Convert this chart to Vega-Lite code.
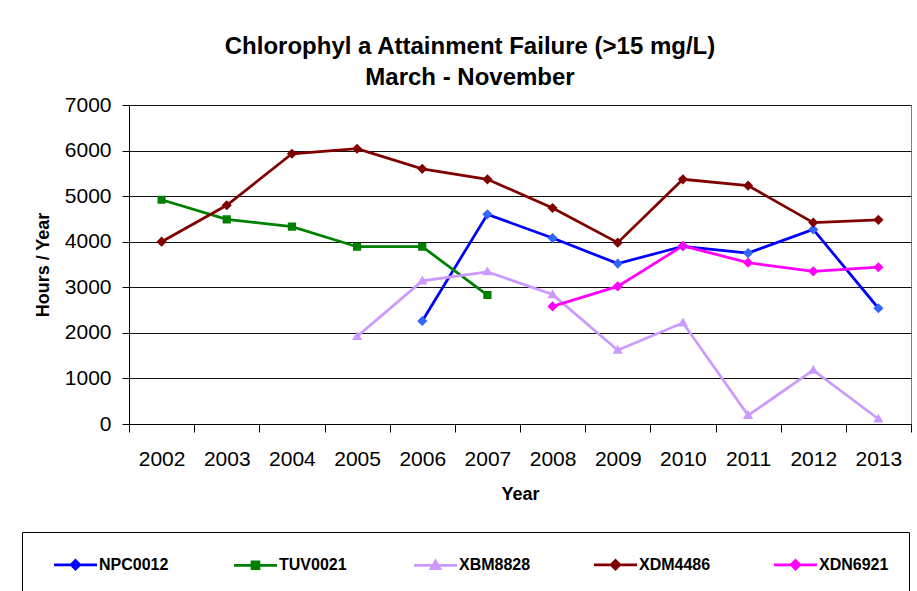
{
  "$schema": "https://vega.github.io/schema/vega-lite/v6.json",
  "width": 782,
  "height": 319,
  "autosize": "none",
  "padding": {"left": 129, "top": 105, "right": 6, "bottom": 167},
  "background": "white",
  "title": {
    "text": ["Chlorophyl a Attainment Failure (>15 mg/L)", "March - November"],
    "fontSize": 24,
    "font": "Liberation Sans",
    "fontWeight": "bold",
    "color": "black",
    "lineHeight": 31,
    "anchor": "middle",
    "frame": "group",
    "dx": -50,
    "offset": 4
  },
  "data": {
    "values": [
      {"site": "NPC0012", "year": 2006, "hours": 2260},
      {"site": "NPC0012", "year": 2007, "hours": 4600},
      {"site": "NPC0012", "year": 2008, "hours": 4080},
      {"site": "NPC0012", "year": 2009, "hours": 3520},
      {"site": "NPC0012", "year": 2010, "hours": 3900},
      {"site": "NPC0012", "year": 2011, "hours": 3750},
      {"site": "NPC0012", "year": 2012, "hours": 4270},
      {"site": "NPC0012", "year": 2013, "hours": 2540},
      {"site": "TUV0021", "year": 2002, "hours": 4920},
      {"site": "TUV0021", "year": 2003, "hours": 4490},
      {"site": "TUV0021", "year": 2004, "hours": 4330},
      {"site": "TUV0021", "year": 2005, "hours": 3890},
      {"site": "TUV0021", "year": 2006, "hours": 3890},
      {"site": "TUV0021", "year": 2007, "hours": 2830},
      {"site": "XBM8828", "year": 2005, "hours": 1920},
      {"site": "XBM8828", "year": 2006, "hours": 3140},
      {"site": "XBM8828", "year": 2007, "hours": 3340},
      {"site": "XBM8828", "year": 2008, "hours": 2840},
      {"site": "XBM8828", "year": 2009, "hours": 1620},
      {"site": "XBM8828", "year": 2010, "hours": 2220},
      {"site": "XBM8828", "year": 2011, "hours": 190},
      {"site": "XBM8828", "year": 2012, "hours": 1180},
      {"site": "XBM8828", "year": 2013, "hours": 110},
      {"site": "XDM4486", "year": 2002, "hours": 4000},
      {"site": "XDM4486", "year": 2003, "hours": 4800},
      {"site": "XDM4486", "year": 2004, "hours": 5930},
      {"site": "XDM4486", "year": 2005, "hours": 6040},
      {"site": "XDM4486", "year": 2006, "hours": 5600},
      {"site": "XDM4486", "year": 2007, "hours": 5370},
      {"site": "XDM4486", "year": 2008, "hours": 4740},
      {"site": "XDM4486", "year": 2009, "hours": 3980},
      {"site": "XDM4486", "year": 2010, "hours": 5370},
      {"site": "XDM4486", "year": 2011, "hours": 5230},
      {"site": "XDM4486", "year": 2012, "hours": 4420},
      {"site": "XDM4486", "year": 2013, "hours": 4480},
      {"site": "XDN6921", "year": 2008, "hours": 2580},
      {"site": "XDN6921", "year": 2009, "hours": 3020},
      {"site": "XDN6921", "year": 2010, "hours": 3910},
      {"site": "XDN6921", "year": 2011, "hours": 3540},
      {"site": "XDN6921", "year": 2012, "hours": 3350},
      {"site": "XDN6921", "year": 2013, "hours": 3440}
    ]
  },
  "encoding": {
    "x": {
      "field": "year",
      "type": "ordinal",
      "scale": {"type": "band", "paddingInner": 0, "paddingOuter": 0},
      "axis": {
        "title": "Year",
        "titleFontSize": 18,
        "titleFontWeight": "bold",
        "titleColor": "black",
        "titlePadding": 16,
        "labelFontSize": 21,
        "labelFontWeight": "normal",
        "labelColor": "black",
        "labelAngle": 0,
        "labelPadding": 16,
        "tickBand": "extent",
        "tickSize": 8,
        "tickColor": "black",
        "domainColor": "black",
        "grid": false
      }
    },
    "y": {
      "field": "hours",
      "type": "quantitative",
      "scale": {"domain": [0, 7000], "nice": false},
      "axis": {
        "title": "Hours / Year",
        "titleFontSize": 18,
        "titleFontWeight": "bold",
        "titleColor": "black",
        "titlePadding": 12,
        "values": [0, 1000, 2000, 3000, 4000, 5000, 6000, 7000],
        "format": "d",
        "labelFontSize": 21,
        "labelColor": "black",
        "labelPadding": 11,
        "tickSize": 7,
        "tickColor": "black",
        "domainColor": "black",
        "grid": true,
        "gridColor": "#111111",
        "gridWidth": 1
      }
    }
  },
  "layer": [
    {
      "mark": {"type": "line", "strokeWidth": 2.75},
      "encoding": {
        "color": {
          "field": "site",
          "type": "nominal",
          "scale": {
            "domain": ["NPC0012", "TUV0021", "XBM8828", "XDM4486", "XDN6921"],
            "range": ["#0000FF", "#008000", "#CC99FF", "#800000", "#FF00FF"]
          },
          "legend": {
            "title": null,
            "orient": "none",
            "legendX": -107,
            "legendY": 427,
            "direction": "horizontal",
            "columns": 5,
            "gridAlign": "all",
            "columnPadding": 51,
            "padding": 20,
            "strokeColor": "black",
            "symbolSize": 462,
            "symbolOffset": 21,
            "symbolStrokeWidth": 2.75,
            "labelOffset": 11,
            "labelFontSize": 16,
            "labelFontWeight": "bold",
            "labelColor": "black"
          }
        }
      }
    },
    {
      "mark": {"type": "point", "filled": true, "opacity": 1, "size": 650},
      "encoding": {
        "fill": {
          "field": "site",
          "type": "nominal",
          "scale": {
            "domain": ["NPC0012", "TUV0021", "XBM8828", "XDM4486", "XDN6921"],
            "range": ["#3366FF", "#008000", "#CC99FF", "#800000", "#FF00FF"]
          },
          "legend": {
            "title": null,
            "orient": "none",
            "legendX": -107,
            "legendY": 427,
            "direction": "horizontal",
            "columns": 5,
            "gridAlign": "all",
            "columnPadding": 51,
            "padding": 20,
            "strokeColor": "black",
            "symbolSize": 462,
            "symbolOffset": 21,
            "symbolStrokeWidth": 2.75,
            "labelOffset": 11,
            "labelFontSize": 16,
            "labelFontWeight": "bold",
            "labelColor": "black"
          }
        },
        "shape": {
          "field": "site",
          "type": "nominal",
          "scale": {
            "domain": ["NPC0012", "TUV0021", "XBM8828", "XDM4486", "XDN6921"],
            "range": [
              "M-2,0H2M0,-0.4L0.4,0L0,0.4L-0.4,0Z",
              "M-2,0H2M-0.32,-0.32H0.32V0.32H-0.32Z",
              "M-2,0H2M0,-0.42L0.4,0.28L-0.4,0.28Z",
              "M-2,0H2M0,-0.4L0.4,0L0,0.4L-0.4,0Z",
              "M-2,0H2M0,-0.4L0.4,0L0,0.4L-0.4,0Z"
            ]
          },
          "legend": {
            "title": null,
            "orient": "none",
            "legendX": -107,
            "legendY": 427,
            "direction": "horizontal",
            "columns": 5,
            "gridAlign": "all",
            "columnPadding": 51,
            "padding": 20,
            "strokeColor": "black",
            "symbolSize": 462,
            "symbolOffset": 21,
            "symbolStrokeWidth": 2.75,
            "labelOffset": 11,
            "labelFontSize": 16,
            "labelFontWeight": "bold",
            "labelColor": "black"
          }
        }
      }
    }
  ],
  "config": {
    "font": "Liberation Sans",
    "view": {"stroke": "#808080", "strokeWidth": 1}
  }
}
